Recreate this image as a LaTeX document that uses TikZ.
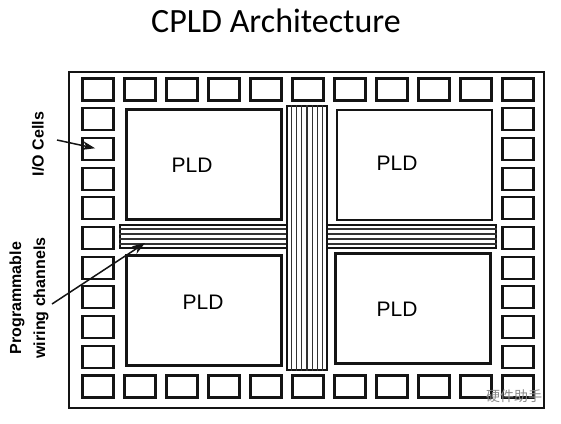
\documentclass[tikz,border=0pt]{standalone}
\usepackage{fontspec}
\usepackage{xcolor}
\usepackage{tikz}
\usetikzlibrary{arrows.meta,positioning,calc}
\setmainfont{Liberation Sans}
\newfontfamily\titlefont{Carlito}
\newfontfamily\cjkfont{Noto Sans CJK SC}
\definecolor{Ink}{HTML}{141414}
\definecolor{Wire}{HTML}{333333}
\definecolor{Mark}{HTML}{8A8A8A}

\begin{document}
\begin{tikzpicture}[x=1pt,y=-1pt,
    frame/.style={draw=Ink,line width=2pt,minimum width=475pt,minimum height=336pt,inner sep=0pt},
    iocell/.style={draw=Ink,line width=2.1pt,minimum width=31pt,minimum height=22pt,inner sep=0pt},
    pld/.style={draw=Ink,line width=2.2pt,minimum width=155pt,minimum height=110pt,inner sep=0pt},
    pldtxt/.style={font=\fontsize{21}{24}\selectfont,text=black},
    lbl/.style={font=\fontsize{16}{24}\selectfont\bfseries,rotate=90,align=center},
    chan/.style={draw=Ink,line width=2pt,fill=white,inner sep=0pt},
    wire/.style={draw=Wire,line width=1.2pt},
    a/.style={-{Stealth[length=13pt,width=9pt]},line width=1.5pt,draw=Ink}]
    \useasboundingbox (0,0) rectangle (561,423);
    \node[font=\titlefont\fontsize{34}{40}\selectfont] (title) at (276,21) {CPLD Architecture};
    \node[frame] (chip) at (306.5,240) {};
    % I/O cells round the edge
    \foreach \i in {0,...,10} {
      \node[iocell] (io-t-\i) at ({98+42*\i},89.5) {};
      \node[iocell] (io-b-\i) at ({98+42*\i},386.5) {};
    }
    \foreach \j in {1,...,9} {
      \node[iocell] (io-l-\j) at (98,{89.5+29.7*\j}) {};
      \node[iocell] (io-r-\j) at (518,{89.5+29.7*\j}) {};
    }
    % logic blocks
    \node[pld] (pld-tl) at (204,164.5) {};
    \node[pld] (pld-tr) at (414.5,165) {};
    \node[pld] (pld-bl) at (204,310.5) {};
    \node[pld] (pld-br) at (413,308.5) {};
    \node[pldtxt] (pld-tl-txt) at (192,165) {PLD};
    \node[pldtxt] (pld-tr-txt) at (397,163.5) {PLD};
    \node[pldtxt] (pld-bl-txt) at (203,302.5) {PLD};
    \node[pldtxt] (pld-br-txt) at (397,309.5) {PLD};
    % wiring channels
    \node[chan,minimum width=376pt,minimum height=23pt] (hch) at (308,236.5) {};
    \foreach \k in {1,...,4}
      \draw[wire] ($(hch.north west)!\k/5!(hch.south west)$) -- ($(hch.north east)!\k/5!(hch.south east)$);
    \node[chan,minimum width=40pt,minimum height=264pt] (vch) at (307,238) {};
    \foreach \k in {1,...,7}
      \draw[wire] ($(vch.north west)!\k/8!(vch.north east)$) -- ($(vch.south west)!\k/8!(vch.south east)$);
    % side labels
    \node[lbl] (io-lbl) at (38,144) {I/O Cells};
    \node[lbl] (wire-lbl) at (29,298) {Programmable\\wiring channels};
    \coordinate (io-tail) at (57,140);
    \coordinate (wire-tail) at (52,304);
    \coordinate (wire-head) at (145,243);
    \draw[a,shorten >=3pt] (io-tail) -- (io-l-2.center);
    \draw[a] (wire-tail) -- (wire-head);
    \node[text=Mark,font=\cjkfont\fontsize{14}{16}\selectfont] (mark) at (514,396) {硬件助手};
\end{tikzpicture}
\end{document}
